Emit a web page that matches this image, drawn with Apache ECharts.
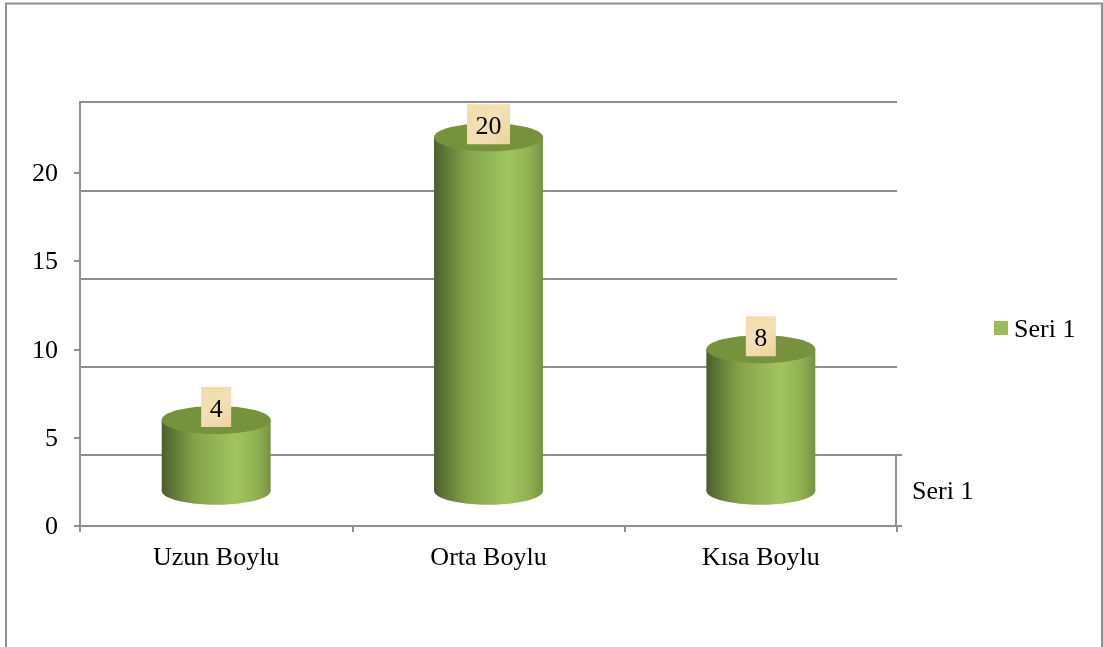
<!DOCTYPE html>
<html>
<head>
<meta charset="utf-8">
<style>html,body{margin:0;padding:0;background:#fff}#c{width:1103px;height:647px}</style>
<script src="https://cdn.jsdelivr.net/npm/echarts@6/dist/echarts.min.js"></script>
</head>
<body>
<div id="c"></div>
<script>
const categories = ['Uzun Boylu', 'Orta Boylu', 'Kısa Boylu'];
const seriesName = 'Seri 1';
const values = [4, 20, 8];
const tickValues = [0, 5, 10, 15, 20];
const depthBase = 2; // the 3D floor lifts each cylinder above the front axis zero

const FONT = '"Liberation Serif", "Times New Roman", serif';
const GREY = '#8f8f8f';
const bodyFill = {
  type: 'linear', x: 0, y: 0, x2: 1, y2: 0,
  colorStops: [
    { offset: 0, color: '#4b5e29' },
    { offset: 0.14, color: '#66803a' },
    { offset: 0.3, color: '#85a24a' },
    { offset: 0.68, color: '#a1c45f' },
    { offset: 0.88, color: '#90b052' },
    { offset: 1, color: '#76923f' }
  ]
};
const labelFill = {
  type: 'linear', x: 0, y: 0, x2: 1, y2: 1,
  colorStops: [
    { offset: 0, color: '#f0dcab' },
    { offset: 0.5, color: '#f3e0b4' },
    { offset: 1, color: '#ebd39e' }
  ]
};

function renderCylinder(params, api) {
  const idx = api.value(0);
  const v = api.value(1);
  const top = api.coord([idx, depthBase + v]);
  const bottom = api.coord([idx, depthBase]);
  const w = api.size([1, 0])[0] * 0.4;
  const rx = w / 2, ry = 14;
  const txt = String(v);
  const boxW = 17 + 13 * txt.length;
  return {
    type: 'group',
    children: [
      { type: 'ellipse', shape: { cx: bottom[0], cy: bottom[1], rx: rx, ry: ry }, style: { fill: bodyFill } },
      { type: 'rect', shape: { x: top[0] - rx, y: top[1], width: w, height: bottom[1] - top[1] }, style: { fill: bodyFill } },
      { type: 'ellipse', shape: { cx: top[0], cy: top[1], rx: rx, ry: ry }, style: { fill: '#76923c' } },
      { type: 'rect', shape: { x: top[0] - boxW / 2, y: top[1] - 33, width: boxW, height: 40 }, style: { fill: labelFill } },
      {
        type: 'text',
        style: {
          text: txt, x: top[0], y: top[1] - 10,
          align: 'center', verticalAlign: 'middle',
          font: '26px ' + FONT, fill: '#000'
        }
      }
    ]
  };
}

const chart = echarts.init(document.getElementById('c'), null, { renderer: 'canvas' });
chart.setOption({
  animation: false,
  backgroundColor: '#fff',
  textStyle: { fontFamily: FONT },
  graphic: [{
    type: 'rect', silent: true, z: -10,
    shape: { x: 6, y: 3.5, width: 1096, height: 670 },
    style: { fill: 'none', stroke: GREY, lineWidth: 2 }
  }],
  legend: {
    left: 989, top: 312, icon: 'rect', itemWidth: 14, itemHeight: 14, itemGap: 0,
    formatter: '{a|{name}}',
    data: [{ name: seriesName, itemStyle: { color: '#9bbb59' } }],
    textStyle: {
      fontFamily: FONT, fontSize: 26, color: '#000',
      rich: { a: { fontFamily: FONT, fontSize: 26, color: '#000', padding: [4, 0, 0, 1] } }
    }
  },
  grid: [
    { left: 80, right: 206, top: 102, bottom: 121 },   // front
    { left: 80, right: 206, top: 102, bottom: 192 },   // back wall
    { left: 896, width: 1, top: 455, bottom: 121 }     // depth axis
  ],
  xAxis: [
    {
      gridIndex: 0, type: 'category', data: categories,
      axisLine: { lineStyle: { color: GREY, width: 2 } },
      axisTick: { show: true, length: 6, lineStyle: { color: GREY, width: 2 } },
      axisLabel: { fontFamily: FONT, fontSize: 26, color: '#000', margin: 19 }
    },
    { gridIndex: 1, type: 'value', min: 0, max: 1, show: false },
    { gridIndex: 2, type: 'value', min: 0, max: 1, show: false }
  ],
  yAxis: [
    {
      gridIndex: 0, type: 'value', min: 0, max: 24, interval: 5,
      splitLine: { show: false },
      axisLine: { show: true, lineStyle: { color: GREY, width: 2 } },
      axisTick: { show: true, length: 6, customValues: tickValues, lineStyle: { color: GREY, width: 2 } },
      axisLabel: {
        customValues: tickValues, fontFamily: FONT, fontSize: 26, color: '#000', margin: 22,
        formatter: '{a|{value}}',
        rich: { a: { fontFamily: FONT, fontSize: 26, color: '#000', padding: [3, 0, 0, 0] } }
      }
    },
    {
      gridIndex: 1, type: 'value', min: 0, max: 20, interval: 5,
      axisLine: { show: false }, axisTick: { show: false }, axisLabel: { show: false },
      splitLine: { show: true, lineStyle: { color: GREY, width: 2 } }
    },
    {
      gridIndex: 2, type: 'category', data: [seriesName], position: 'right',
      axisLine: { show: true, lineStyle: { color: GREY, width: 2 } },
      axisTick: { show: true, length: 6, lineStyle: { color: GREY, width: 2 } },
      axisLabel: {
        fontFamily: FONT, fontSize: 26, color: '#000', margin: 15,
        formatter: '{a|{value}}',
        rich: { a: { fontFamily: FONT, fontSize: 26, color: '#000', padding: [4, 0, 0, 0] } }
      },
      splitLine: { show: false }
    }
  ],
  series: [{
    name: seriesName,
    type: 'custom',
    xAxisIndex: 0, yAxisIndex: 0,
    coordinateSystem: 'cartesian2d',
    clip: false,
    z: 5,
    itemStyle: { color: '#9bbb59' },
    encode: { x: 0, y: 1 },
    data: values.map((v, i) => [i, v]),
    renderItem: renderCylinder
  }]
});
</script>
</body>
</html>
